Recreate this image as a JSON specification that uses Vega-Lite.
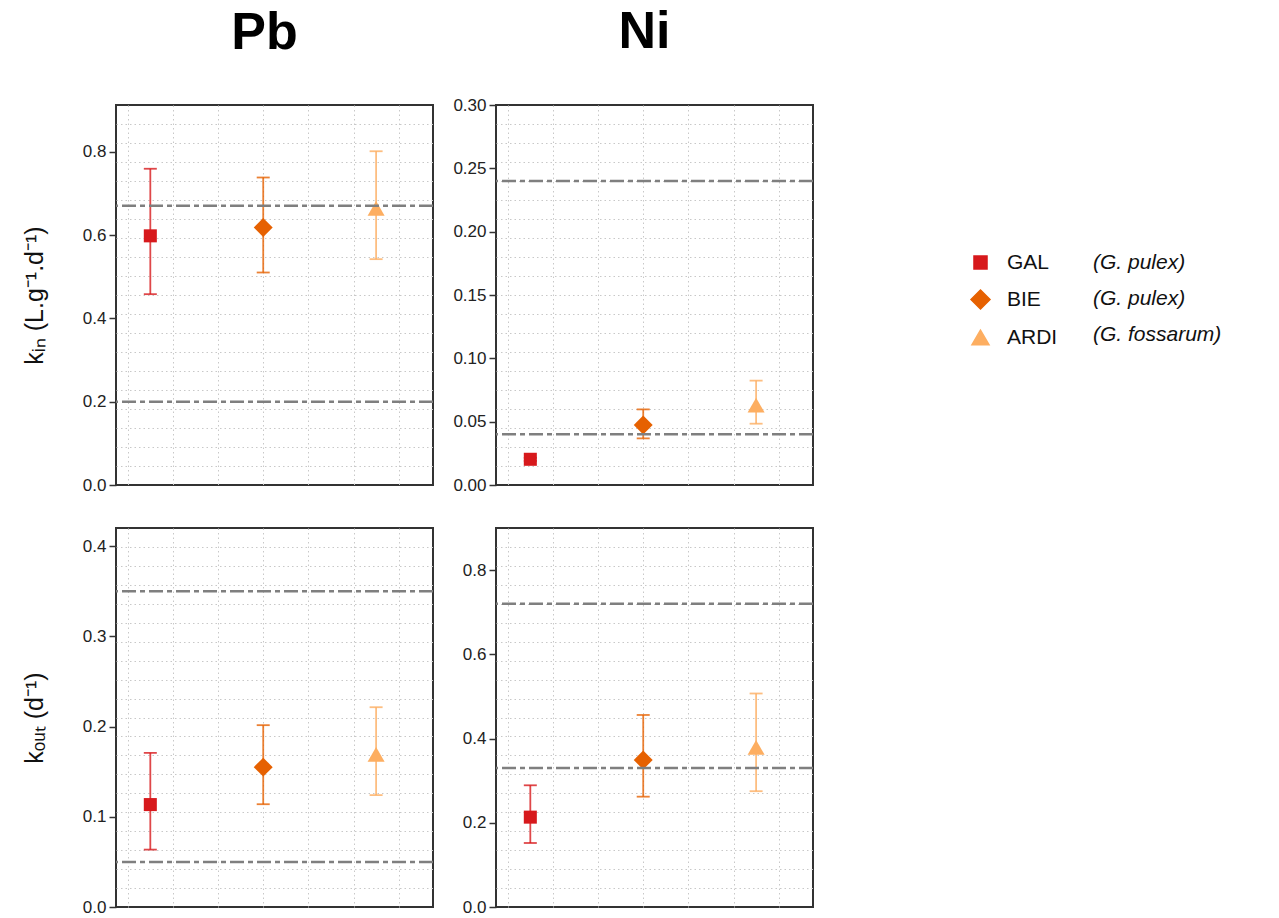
{
"$schema": "https://vega.github.io/schema/vega-lite/v6.json",
"background": "white",
"padding": {"left": 21, "top": 5, "right": 5, "bottom": 5},
"datasets": {
 "pbkin": [
  {"site": "GAL", "sp": "GAL (G. pulex)", "pos": 1, "v": 0.598, "lo": 0.458, "hi": 0.759},
  {"site": "BIE", "sp": "BIE (G. pulex)", "pos": 2, "v": 0.618, "lo": 0.510, "hi": 0.738},
  {"site": "ARDI", "sp": "ARDI (G. fossarum)", "pos": 3, "v": 0.664, "lo": 0.542, "hi": 0.801}
 ],
 "pbkin_ref": [{"v": 0.67}, {"v": 0.2}],
 "nikin": [
  {"site": "GAL", "sp": "GAL (G. pulex)", "pos": 1, "v": 0.0203, "lo": 0.019, "hi": 0.0215},
  {"site": "BIE", "sp": "BIE (G. pulex)", "pos": 2, "v": 0.0474, "lo": 0.0368, "hi": 0.0597},
  {"site": "ARDI", "sp": "ARDI (G. fossarum)", "pos": 3, "v": 0.063, "lo": 0.0484, "hi": 0.0824}
 ],
 "nikin_ref": [{"v": 0.24}, {"v": 0.04}],
 "pbkout": [
  {"site": "GAL", "sp": "GAL (G. pulex)", "pos": 1, "v": 0.1135, "lo": 0.0636, "hi": 0.1708},
  {"site": "BIE", "sp": "BIE (G. pulex)", "pos": 2, "v": 0.155, "lo": 0.1139, "hi": 0.2015},
  {"site": "ARDI", "sp": "ARDI (G. fossarum)", "pos": 3, "v": 0.169, "lo": 0.124, "hi": 0.2214}
 ],
 "pbkout_ref": [{"v": 0.35}, {"v": 0.05}],
 "nikout": [
  {"site": "GAL", "sp": "GAL (G. pulex)", "pos": 1, "v": 0.2134, "lo": 0.152, "hi": 0.289},
  {"site": "BIE", "sp": "BIE (G. pulex)", "pos": 2, "v": 0.349, "lo": 0.262, "hi": 0.456},
  {"site": "ARDI", "sp": "ARDI (G. fossarum)", "pos": 3, "v": 0.379, "lo": 0.275, "hi": 0.507}
 ],
 "nikout_ref": [{"v": 0.72}, {"v": 0.33}]
},
"columns": 2,
"spacing": {"row": 43, "column": 63},
"bounds": "flush",
"concat": [
 {
  "width": 317, "height": 380,
  "title": {"text": "Pb", "offset": 45, "dx": -10},
  "layer": [
   {"data": {"name": "pbkin"}, "mark": {"type": "rule", "strokeWidth": 1.8, "opacity": 0.8},
    "encoding": {
     "x": {"field": "pos", "type": "quantitative", "scale": {"domain": [0.696, 3.504], "nice": false, "zero": false}, "axis": {"values": [0.8, 1.2, 1.6, 2, 2.4, 2.8, 3.2], "labels": false, "ticks": false, "domain": false, "title": null, "grid": true}},
     "y": {"field": "lo", "type": "quantitative", "scale": {"domain": [0, 0.912], "nice": false, "zero": false}, "axis": {"values": [0,0.0456,0.0912,0.1368,0.1824,0.2,0.228,0.2736,0.3192,0.3648,0.4,0.4104,0.456,0.5016,0.5472,0.5928,0.6,0.6384,0.684,0.7296,0.7752,0.8,0.8208,0.8664], "labelExpr": "abs(datum.value*5-round(datum.value*5))<1e-6 ? format(datum.value,'.1f') : ''", "labelOverlap": false, "tickOpacity": {"condition": {"test": "abs(datum.value*5-round(datum.value*5))<1e-6", "value": 1}, "value": 0}, "gridOpacity": {"condition": {"test": "datum.value>0.001 && abs(datum.value/0.0456-round(datum.value/0.0456))<1e-6", "value": 1}, "value": 0}, "title": "kᵢₙ (L.g⁻¹.d⁻¹)"}},
     "y2": {"field": "hi"},
     "color": {"field": "site", "type": "nominal", "scale": {"domain": ["GAL", "BIE", "ARDI"], "range": ["#d7191c", "#e66101", "#fdae61"]}, "legend": {"title": null, "orient": "right", "offset": 7, "padding": 147, "labelFontSize": 21, "labelFont": "Liberation Sans", "labelColor": "#111111", "rowPadding": 14, "labelOffset": 16, "labelLimit": 300, "symbolOpacity": 1}}
    }},
   {"data": {"name": "pbkin"}, "mark": {"type": "tick", "orient": "horizontal", "size": 13, "thickness": 1.8, "opacity": 0.8},
    "encoding": {
     "x": {"field": "pos", "type": "quantitative", "scale": {"domain": [0.696, 3.504], "nice": false, "zero": false}, "axis": {"values": [0.8, 1.2, 1.6, 2, 2.4, 2.8, 3.2], "labels": false, "ticks": false, "domain": false, "title": null, "grid": true}},
     "y": {"field": "lo", "type": "quantitative", "scale": {"domain": [0, 0.912], "nice": false, "zero": false}, "axis": {"values": [0,0.0456,0.0912,0.1368,0.1824,0.2,0.228,0.2736,0.3192,0.3648,0.4,0.4104,0.456,0.5016,0.5472,0.5928,0.6,0.6384,0.684,0.7296,0.7752,0.8,0.8208,0.8664], "labelExpr": "abs(datum.value*5-round(datum.value*5))<1e-6 ? format(datum.value,'.1f') : ''", "labelOverlap": false, "tickOpacity": {"condition": {"test": "abs(datum.value*5-round(datum.value*5))<1e-6", "value": 1}, "value": 0}, "gridOpacity": {"condition": {"test": "datum.value>0.001 && abs(datum.value/0.0456-round(datum.value/0.0456))<1e-6", "value": 1}, "value": 0}, "title": "kᵢₙ (L.g⁻¹.d⁻¹)"}},
     "color": {"field": "site", "type": "nominal", "scale": {"domain": ["GAL", "BIE", "ARDI"], "range": ["#d7191c", "#e66101", "#fdae61"]}, "legend": {"title": null, "orient": "right", "offset": 7, "padding": 147, "labelFontSize": 21, "labelFont": "Liberation Sans", "labelColor": "#111111", "rowPadding": 14, "labelOffset": 16, "labelLimit": 300, "symbolOpacity": 1}}
    }},
   {"data": {"name": "pbkin"}, "mark": {"type": "tick", "orient": "horizontal", "size": 13, "thickness": 1.8, "opacity": 0.8},
    "encoding": {
     "x": {"field": "pos", "type": "quantitative", "scale": {"domain": [0.696, 3.504], "nice": false, "zero": false}, "axis": {"values": [0.8, 1.2, 1.6, 2, 2.4, 2.8, 3.2], "labels": false, "ticks": false, "domain": false, "title": null, "grid": true}},
     "y": {"field": "hi", "type": "quantitative", "scale": {"domain": [0, 0.912], "nice": false, "zero": false}, "axis": {"values": [0,0.0456,0.0912,0.1368,0.1824,0.2,0.228,0.2736,0.3192,0.3648,0.4,0.4104,0.456,0.5016,0.5472,0.5928,0.6,0.6384,0.684,0.7296,0.7752,0.8,0.8208,0.8664], "labelExpr": "abs(datum.value*5-round(datum.value*5))<1e-6 ? format(datum.value,'.1f') : ''", "labelOverlap": false, "tickOpacity": {"condition": {"test": "abs(datum.value*5-round(datum.value*5))<1e-6", "value": 1}, "value": 0}, "gridOpacity": {"condition": {"test": "datum.value>0.001 && abs(datum.value/0.0456-round(datum.value/0.0456))<1e-6", "value": 1}, "value": 0}, "title": "kᵢₙ (L.g⁻¹.d⁻¹)"}},
     "color": {"field": "site", "type": "nominal", "scale": {"domain": ["GAL", "BIE", "ARDI"], "range": ["#d7191c", "#e66101", "#fdae61"]}, "legend": {"title": null, "orient": "right", "offset": 7, "padding": 147, "labelFontSize": 21, "labelFont": "Liberation Sans", "labelColor": "#111111", "rowPadding": 14, "labelOffset": 16, "labelLimit": 300, "symbolOpacity": 1}}
    }},
   {"data": {"name": "pbkin"}, "mark": {"type": "point", "filled": true, "strokeWidth": 0},
    "encoding": {
     "x": {"field": "pos", "type": "quantitative", "scale": {"domain": [0.696, 3.504], "nice": false, "zero": false}, "axis": {"values": [0.8, 1.2, 1.6, 2, 2.4, 2.8, 3.2], "labels": false, "ticks": false, "domain": false, "title": null, "grid": true}},
     "y": {"field": "v", "type": "quantitative", "scale": {"domain": [0, 0.912], "nice": false, "zero": false}, "axis": {"values": [0,0.0456,0.0912,0.1368,0.1824,0.2,0.228,0.2736,0.3192,0.3648,0.4,0.4104,0.456,0.5016,0.5472,0.5928,0.6,0.6384,0.684,0.7296,0.7752,0.8,0.8208,0.8664], "labelExpr": "abs(datum.value*5-round(datum.value*5))<1e-6 ? format(datum.value,'.1f') : ''", "labelOverlap": false, "tickOpacity": {"condition": {"test": "abs(datum.value*5-round(datum.value*5))<1e-6", "value": 1}, "value": 0}, "gridOpacity": {"condition": {"test": "datum.value>0.001 && abs(datum.value/0.0456-round(datum.value/0.0456))<1e-6", "value": 1}, "value": 0}, "title": "kᵢₙ (L.g⁻¹.d⁻¹)"}},
     "color": {"field": "site", "type": "nominal", "scale": {"domain": ["GAL", "BIE", "ARDI"], "range": ["#d7191c", "#e66101", "#fdae61"]}, "legend": {"title": null, "orient": "right", "offset": 7, "padding": 147, "labelFontSize": 21, "labelFont": "Liberation Sans", "labelColor": "#111111", "rowPadding": 14, "labelOffset": 16, "labelLimit": 300, "symbolOpacity": 1}},
     "shape": {"field": "site", "type": "nominal", "scale": {"domain": ["GAL", "BIE", "ARDI"], "range": ["square", "diamond", "triangle-up"]}, "legend": {"title": null, "orient": "right", "offset": 7, "padding": 147, "labelFontSize": 21, "labelFont": "Liberation Sans", "labelColor": "#111111", "rowPadding": 14, "labelOffset": 16, "labelLimit": 300, "symbolOpacity": 1}},
     "size": {"field": "site", "type": "nominal", "scale": {"type": "ordinal", "domain": ["GAL", "BIE", "ARDI"], "range": [170, 360, 290]}, "legend": {"title": null, "orient": "right", "offset": 7, "padding": 147, "labelFontSize": 21, "labelFont": "Liberation Sans", "labelColor": "#111111", "rowPadding": 14, "labelOffset": 16, "labelLimit": 300, "symbolOpacity": 1}},
     "opacity": {"field": "sp", "type": "nominal", "scale": {"type": "ordinal", "domain": ["GAL (G. pulex)", "BIE (G. pulex)", "ARDI (G. fossarum)"], "range": [1, 1, 1]}, "legend": {"title": null, "orient": "none", "legendX": 956, "legendY": 147, "labelFontSize": 21, "labelFont": "Liberation Sans", "labelFontStyle": "italic", "labelColor": "#111111", "rowPadding": 14, "symbolSize": 0, "symbolStrokeWidth": 0, "labelOffset": 0, "labelLimit": 300, "labelExpr": "substring(datum.label, indexof(datum.label, '('))"}}
    }},
   {"data": {"name": "pbkin_ref"}, "mark": {"type": "rule", "stroke": "#7f7f7f", "strokeWidth": 2.5, "strokeDash": [14, 4, 5, 4]},
    "encoding": {
     "y": {"field": "v", "type": "quantitative", "scale": {"domain": [0, 0.912], "nice": false, "zero": false}, "axis": {"values": [0,0.0456,0.0912,0.1368,0.1824,0.2,0.228,0.2736,0.3192,0.3648,0.4,0.4104,0.456,0.5016,0.5472,0.5928,0.6,0.6384,0.684,0.7296,0.7752,0.8,0.8208,0.8664], "labelExpr": "abs(datum.value*5-round(datum.value*5))<1e-6 ? format(datum.value,'.1f') : ''", "labelOverlap": false, "tickOpacity": {"condition": {"test": "abs(datum.value*5-round(datum.value*5))<1e-6", "value": 1}, "value": 0}, "gridOpacity": {"condition": {"test": "datum.value>0.001 && abs(datum.value/0.0456-round(datum.value/0.0456))<1e-6", "value": 1}, "value": 0}, "title": "kᵢₙ (L.g⁻¹.d⁻¹)"}}
    }}
  ]
 },
 {
  "width": 317, "height": 380,
  "title": {"text": "Ni", "offset": 37, "dx": -10},
  "layer": [
   {"data": {"name": "nikin"}, "mark": {"type": "rule", "strokeWidth": 1.8, "opacity": 0.8},
    "encoding": {
     "x": {"field": "pos", "type": "quantitative", "scale": {"domain": [0.696, 3.504], "nice": false, "zero": false}, "axis": {"values": [0.8, 1.2, 1.6, 2, 2.4, 2.8, 3.2], "labels": false, "ticks": false, "domain": false, "title": null, "grid": true}},
     "y": {"field": "lo", "type": "quantitative", "scale": {"domain": [0, 0.3], "nice": false, "zero": false}, "axis": {"values": [0,0.015,0.03,0.045,0.05,0.06,0.075,0.09,0.1,0.105,0.12,0.135,0.15,0.165,0.18,0.195,0.2,0.21,0.225,0.24,0.25,0.255,0.27,0.285,0.3], "labelExpr": "abs(datum.value*20-round(datum.value*20))<1e-6 ? format(datum.value,'.2f') : ''", "labelOverlap": false, "tickOpacity": {"condition": {"test": "abs(datum.value*20-round(datum.value*20))<1e-6", "value": 1}, "value": 0}, "gridOpacity": {"condition": {"test": "datum.value>0.001 && datum.value<0.299 && abs(datum.value/0.015-round(datum.value/0.015))<1e-6", "value": 1}, "value": 0}, "title": null}},
     "y2": {"field": "hi"},
     "color": {"field": "site", "type": "nominal", "scale": {"domain": ["GAL", "BIE", "ARDI"], "range": ["#d7191c", "#e66101", "#fdae61"]}, "legend": {"title": null, "orient": "right", "offset": 7, "padding": 147, "labelFontSize": 21, "labelFont": "Liberation Sans", "labelColor": "#111111", "rowPadding": 14, "labelOffset": 16, "labelLimit": 300, "symbolOpacity": 1}}
    }},
   {"data": {"name": "nikin"}, "mark": {"type": "tick", "orient": "horizontal", "size": 13, "thickness": 1.8, "opacity": 0.8},
    "encoding": {
     "x": {"field": "pos", "type": "quantitative", "scale": {"domain": [0.696, 3.504], "nice": false, "zero": false}, "axis": {"values": [0.8, 1.2, 1.6, 2, 2.4, 2.8, 3.2], "labels": false, "ticks": false, "domain": false, "title": null, "grid": true}},
     "y": {"field": "lo", "type": "quantitative", "scale": {"domain": [0, 0.3], "nice": false, "zero": false}, "axis": {"values": [0,0.015,0.03,0.045,0.05,0.06,0.075,0.09,0.1,0.105,0.12,0.135,0.15,0.165,0.18,0.195,0.2,0.21,0.225,0.24,0.25,0.255,0.27,0.285,0.3], "labelExpr": "abs(datum.value*20-round(datum.value*20))<1e-6 ? format(datum.value,'.2f') : ''", "labelOverlap": false, "tickOpacity": {"condition": {"test": "abs(datum.value*20-round(datum.value*20))<1e-6", "value": 1}, "value": 0}, "gridOpacity": {"condition": {"test": "datum.value>0.001 && datum.value<0.299 && abs(datum.value/0.015-round(datum.value/0.015))<1e-6", "value": 1}, "value": 0}, "title": null}},
     "color": {"field": "site", "type": "nominal", "scale": {"domain": ["GAL", "BIE", "ARDI"], "range": ["#d7191c", "#e66101", "#fdae61"]}, "legend": {"title": null, "orient": "right", "offset": 7, "padding": 147, "labelFontSize": 21, "labelFont": "Liberation Sans", "labelColor": "#111111", "rowPadding": 14, "labelOffset": 16, "labelLimit": 300, "symbolOpacity": 1}}
    }},
   {"data": {"name": "nikin"}, "mark": {"type": "tick", "orient": "horizontal", "size": 13, "thickness": 1.8, "opacity": 0.8},
    "encoding": {
     "x": {"field": "pos", "type": "quantitative", "scale": {"domain": [0.696, 3.504], "nice": false, "zero": false}, "axis": {"values": [0.8, 1.2, 1.6, 2, 2.4, 2.8, 3.2], "labels": false, "ticks": false, "domain": false, "title": null, "grid": true}},
     "y": {"field": "hi", "type": "quantitative", "scale": {"domain": [0, 0.3], "nice": false, "zero": false}, "axis": {"values": [0,0.015,0.03,0.045,0.05,0.06,0.075,0.09,0.1,0.105,0.12,0.135,0.15,0.165,0.18,0.195,0.2,0.21,0.225,0.24,0.25,0.255,0.27,0.285,0.3], "labelExpr": "abs(datum.value*20-round(datum.value*20))<1e-6 ? format(datum.value,'.2f') : ''", "labelOverlap": false, "tickOpacity": {"condition": {"test": "abs(datum.value*20-round(datum.value*20))<1e-6", "value": 1}, "value": 0}, "gridOpacity": {"condition": {"test": "datum.value>0.001 && datum.value<0.299 && abs(datum.value/0.015-round(datum.value/0.015))<1e-6", "value": 1}, "value": 0}, "title": null}},
     "color": {"field": "site", "type": "nominal", "scale": {"domain": ["GAL", "BIE", "ARDI"], "range": ["#d7191c", "#e66101", "#fdae61"]}, "legend": {"title": null, "orient": "right", "offset": 7, "padding": 147, "labelFontSize": 21, "labelFont": "Liberation Sans", "labelColor": "#111111", "rowPadding": 14, "labelOffset": 16, "labelLimit": 300, "symbolOpacity": 1}}
    }},
   {"data": {"name": "nikin"}, "mark": {"type": "point", "filled": true, "strokeWidth": 0},
    "encoding": {
     "x": {"field": "pos", "type": "quantitative", "scale": {"domain": [0.696, 3.504], "nice": false, "zero": false}, "axis": {"values": [0.8, 1.2, 1.6, 2, 2.4, 2.8, 3.2], "labels": false, "ticks": false, "domain": false, "title": null, "grid": true}},
     "y": {"field": "v", "type": "quantitative", "scale": {"domain": [0, 0.3], "nice": false, "zero": false}, "axis": {"values": [0,0.015,0.03,0.045,0.05,0.06,0.075,0.09,0.1,0.105,0.12,0.135,0.15,0.165,0.18,0.195,0.2,0.21,0.225,0.24,0.25,0.255,0.27,0.285,0.3], "labelExpr": "abs(datum.value*20-round(datum.value*20))<1e-6 ? format(datum.value,'.2f') : ''", "labelOverlap": false, "tickOpacity": {"condition": {"test": "abs(datum.value*20-round(datum.value*20))<1e-6", "value": 1}, "value": 0}, "gridOpacity": {"condition": {"test": "datum.value>0.001 && datum.value<0.299 && abs(datum.value/0.015-round(datum.value/0.015))<1e-6", "value": 1}, "value": 0}, "title": null}},
     "color": {"field": "site", "type": "nominal", "scale": {"domain": ["GAL", "BIE", "ARDI"], "range": ["#d7191c", "#e66101", "#fdae61"]}, "legend": {"title": null, "orient": "right", "offset": 7, "padding": 147, "labelFontSize": 21, "labelFont": "Liberation Sans", "labelColor": "#111111", "rowPadding": 14, "labelOffset": 16, "labelLimit": 300, "symbolOpacity": 1}},
     "shape": {"field": "site", "type": "nominal", "scale": {"domain": ["GAL", "BIE", "ARDI"], "range": ["square", "diamond", "triangle-up"]}, "legend": {"title": null, "orient": "right", "offset": 7, "padding": 147, "labelFontSize": 21, "labelFont": "Liberation Sans", "labelColor": "#111111", "rowPadding": 14, "labelOffset": 16, "labelLimit": 300, "symbolOpacity": 1}},
     "size": {"field": "site", "type": "nominal", "scale": {"type": "ordinal", "domain": ["GAL", "BIE", "ARDI"], "range": [170, 360, 290]}, "legend": {"title": null, "orient": "right", "offset": 7, "padding": 147, "labelFontSize": 21, "labelFont": "Liberation Sans", "labelColor": "#111111", "rowPadding": 14, "labelOffset": 16, "labelLimit": 300, "symbolOpacity": 1}},
     "opacity": {"field": "sp", "type": "nominal", "scale": {"type": "ordinal", "domain": ["GAL (G. pulex)", "BIE (G. pulex)", "ARDI (G. fossarum)"], "range": [1, 1, 1]}, "legend": {"title": null, "orient": "none", "legendX": 956, "legendY": 147, "labelFontSize": 21, "labelFont": "Liberation Sans", "labelFontStyle": "italic", "labelColor": "#111111", "rowPadding": 14, "symbolSize": 0, "symbolStrokeWidth": 0, "labelOffset": 0, "labelLimit": 300, "labelExpr": "substring(datum.label, indexof(datum.label, '('))"}}
    }},
   {"data": {"name": "nikin_ref"}, "mark": {"type": "rule", "stroke": "#7f7f7f", "strokeWidth": 2.5, "strokeDash": [14, 4, 5, 4]},
    "encoding": {
     "y": {"field": "v", "type": "quantitative", "scale": {"domain": [0, 0.3], "nice": false, "zero": false}, "axis": {"values": [0,0.015,0.03,0.045,0.05,0.06,0.075,0.09,0.1,0.105,0.12,0.135,0.15,0.165,0.18,0.195,0.2,0.21,0.225,0.24,0.25,0.255,0.27,0.285,0.3], "labelExpr": "abs(datum.value*20-round(datum.value*20))<1e-6 ? format(datum.value,'.2f') : ''", "labelOverlap": false, "tickOpacity": {"condition": {"test": "abs(datum.value*20-round(datum.value*20))<1e-6", "value": 1}, "value": 0}, "gridOpacity": {"condition": {"test": "datum.value>0.001 && datum.value<0.299 && abs(datum.value/0.015-round(datum.value/0.015))<1e-6", "value": 1}, "value": 0}, "title": null}}
    }}
  ]
 },
 {
  "width": 317, "height": 379,
  "layer": [
   {"data": {"name": "pbkout"}, "mark": {"type": "rule", "strokeWidth": 1.8, "opacity": 0.8},
    "encoding": {
     "x": {"field": "pos", "type": "quantitative", "scale": {"domain": [0.696, 3.504], "nice": false, "zero": false}, "axis": {"values": [0.8, 1.2, 1.6, 2, 2.4, 2.8, 3.2], "labels": false, "ticks": false, "domain": false, "title": null, "grid": true}},
     "y": {"field": "lo", "type": "quantitative", "scale": {"domain": [0, 0.42], "nice": false, "zero": false}, "axis": {"values": [0,0.021,0.042,0.063,0.084,0.1,0.105,0.126,0.147,0.168,0.189,0.2,0.21,0.231,0.252,0.273,0.294,0.3,0.315,0.336,0.357,0.378,0.399,0.4], "labelExpr": "abs(datum.value*10-round(datum.value*10))<1e-6 ? format(datum.value,'.1f') : ''", "labelOverlap": false, "tickOpacity": {"condition": {"test": "abs(datum.value*10-round(datum.value*10))<1e-6", "value": 1}, "value": 0}, "gridOpacity": {"condition": {"test": "datum.value>0.001 && abs(datum.value/0.021-round(datum.value/0.021))<1e-6", "value": 1}, "value": 0}, "title": "kₒᵤₜ (d⁻¹)"}},
     "y2": {"field": "hi"},
     "color": {"field": "site", "type": "nominal", "scale": {"domain": ["GAL", "BIE", "ARDI"], "range": ["#d7191c", "#e66101", "#fdae61"]}, "legend": {"title": null, "orient": "right", "offset": 7, "padding": 147, "labelFontSize": 21, "labelFont": "Liberation Sans", "labelColor": "#111111", "rowPadding": 14, "labelOffset": 16, "labelLimit": 300, "symbolOpacity": 1}}
    }},
   {"data": {"name": "pbkout"}, "mark": {"type": "tick", "orient": "horizontal", "size": 13, "thickness": 1.8, "opacity": 0.8},
    "encoding": {
     "x": {"field": "pos", "type": "quantitative", "scale": {"domain": [0.696, 3.504], "nice": false, "zero": false}, "axis": {"values": [0.8, 1.2, 1.6, 2, 2.4, 2.8, 3.2], "labels": false, "ticks": false, "domain": false, "title": null, "grid": true}},
     "y": {"field": "lo", "type": "quantitative", "scale": {"domain": [0, 0.42], "nice": false, "zero": false}, "axis": {"values": [0,0.021,0.042,0.063,0.084,0.1,0.105,0.126,0.147,0.168,0.189,0.2,0.21,0.231,0.252,0.273,0.294,0.3,0.315,0.336,0.357,0.378,0.399,0.4], "labelExpr": "abs(datum.value*10-round(datum.value*10))<1e-6 ? format(datum.value,'.1f') : ''", "labelOverlap": false, "tickOpacity": {"condition": {"test": "abs(datum.value*10-round(datum.value*10))<1e-6", "value": 1}, "value": 0}, "gridOpacity": {"condition": {"test": "datum.value>0.001 && abs(datum.value/0.021-round(datum.value/0.021))<1e-6", "value": 1}, "value": 0}, "title": "kₒᵤₜ (d⁻¹)"}},
     "color": {"field": "site", "type": "nominal", "scale": {"domain": ["GAL", "BIE", "ARDI"], "range": ["#d7191c", "#e66101", "#fdae61"]}, "legend": {"title": null, "orient": "right", "offset": 7, "padding": 147, "labelFontSize": 21, "labelFont": "Liberation Sans", "labelColor": "#111111", "rowPadding": 14, "labelOffset": 16, "labelLimit": 300, "symbolOpacity": 1}}
    }},
   {"data": {"name": "pbkout"}, "mark": {"type": "tick", "orient": "horizontal", "size": 13, "thickness": 1.8, "opacity": 0.8},
    "encoding": {
     "x": {"field": "pos", "type": "quantitative", "scale": {"domain": [0.696, 3.504], "nice": false, "zero": false}, "axis": {"values": [0.8, 1.2, 1.6, 2, 2.4, 2.8, 3.2], "labels": false, "ticks": false, "domain": false, "title": null, "grid": true}},
     "y": {"field": "hi", "type": "quantitative", "scale": {"domain": [0, 0.42], "nice": false, "zero": false}, "axis": {"values": [0,0.021,0.042,0.063,0.084,0.1,0.105,0.126,0.147,0.168,0.189,0.2,0.21,0.231,0.252,0.273,0.294,0.3,0.315,0.336,0.357,0.378,0.399,0.4], "labelExpr": "abs(datum.value*10-round(datum.value*10))<1e-6 ? format(datum.value,'.1f') : ''", "labelOverlap": false, "tickOpacity": {"condition": {"test": "abs(datum.value*10-round(datum.value*10))<1e-6", "value": 1}, "value": 0}, "gridOpacity": {"condition": {"test": "datum.value>0.001 && abs(datum.value/0.021-round(datum.value/0.021))<1e-6", "value": 1}, "value": 0}, "title": "kₒᵤₜ (d⁻¹)"}},
     "color": {"field": "site", "type": "nominal", "scale": {"domain": ["GAL", "BIE", "ARDI"], "range": ["#d7191c", "#e66101", "#fdae61"]}, "legend": {"title": null, "orient": "right", "offset": 7, "padding": 147, "labelFontSize": 21, "labelFont": "Liberation Sans", "labelColor": "#111111", "rowPadding": 14, "labelOffset": 16, "labelLimit": 300, "symbolOpacity": 1}}
    }},
   {"data": {"name": "pbkout"}, "mark": {"type": "point", "filled": true, "strokeWidth": 0},
    "encoding": {
     "x": {"field": "pos", "type": "quantitative", "scale": {"domain": [0.696, 3.504], "nice": false, "zero": false}, "axis": {"values": [0.8, 1.2, 1.6, 2, 2.4, 2.8, 3.2], "labels": false, "ticks": false, "domain": false, "title": null, "grid": true}},
     "y": {"field": "v", "type": "quantitative", "scale": {"domain": [0, 0.42], "nice": false, "zero": false}, "axis": {"values": [0,0.021,0.042,0.063,0.084,0.1,0.105,0.126,0.147,0.168,0.189,0.2,0.21,0.231,0.252,0.273,0.294,0.3,0.315,0.336,0.357,0.378,0.399,0.4], "labelExpr": "abs(datum.value*10-round(datum.value*10))<1e-6 ? format(datum.value,'.1f') : ''", "labelOverlap": false, "tickOpacity": {"condition": {"test": "abs(datum.value*10-round(datum.value*10))<1e-6", "value": 1}, "value": 0}, "gridOpacity": {"condition": {"test": "datum.value>0.001 && abs(datum.value/0.021-round(datum.value/0.021))<1e-6", "value": 1}, "value": 0}, "title": "kₒᵤₜ (d⁻¹)"}},
     "color": {"field": "site", "type": "nominal", "scale": {"domain": ["GAL", "BIE", "ARDI"], "range": ["#d7191c", "#e66101", "#fdae61"]}, "legend": {"title": null, "orient": "right", "offset": 7, "padding": 147, "labelFontSize": 21, "labelFont": "Liberation Sans", "labelColor": "#111111", "rowPadding": 14, "labelOffset": 16, "labelLimit": 300, "symbolOpacity": 1}},
     "shape": {"field": "site", "type": "nominal", "scale": {"domain": ["GAL", "BIE", "ARDI"], "range": ["square", "diamond", "triangle-up"]}, "legend": {"title": null, "orient": "right", "offset": 7, "padding": 147, "labelFontSize": 21, "labelFont": "Liberation Sans", "labelColor": "#111111", "rowPadding": 14, "labelOffset": 16, "labelLimit": 300, "symbolOpacity": 1}},
     "size": {"field": "site", "type": "nominal", "scale": {"type": "ordinal", "domain": ["GAL", "BIE", "ARDI"], "range": [170, 360, 290]}, "legend": {"title": null, "orient": "right", "offset": 7, "padding": 147, "labelFontSize": 21, "labelFont": "Liberation Sans", "labelColor": "#111111", "rowPadding": 14, "labelOffset": 16, "labelLimit": 300, "symbolOpacity": 1}},
     "opacity": {"field": "sp", "type": "nominal", "scale": {"type": "ordinal", "domain": ["GAL (G. pulex)", "BIE (G. pulex)", "ARDI (G. fossarum)"], "range": [1, 1, 1]}, "legend": {"title": null, "orient": "none", "legendX": 956, "legendY": 147, "labelFontSize": 21, "labelFont": "Liberation Sans", "labelFontStyle": "italic", "labelColor": "#111111", "rowPadding": 14, "symbolSize": 0, "symbolStrokeWidth": 0, "labelOffset": 0, "labelLimit": 300, "labelExpr": "substring(datum.label, indexof(datum.label, '('))"}}
    }},
   {"data": {"name": "pbkout_ref"}, "mark": {"type": "rule", "stroke": "#7f7f7f", "strokeWidth": 2.5, "strokeDash": [14, 4, 5, 4]},
    "encoding": {
     "y": {"field": "v", "type": "quantitative", "scale": {"domain": [0, 0.42], "nice": false, "zero": false}, "axis": {"values": [0,0.021,0.042,0.063,0.084,0.1,0.105,0.126,0.147,0.168,0.189,0.2,0.21,0.231,0.252,0.273,0.294,0.3,0.315,0.336,0.357,0.378,0.399,0.4], "labelExpr": "abs(datum.value*10-round(datum.value*10))<1e-6 ? format(datum.value,'.1f') : ''", "labelOverlap": false, "tickOpacity": {"condition": {"test": "abs(datum.value*10-round(datum.value*10))<1e-6", "value": 1}, "value": 0}, "gridOpacity": {"condition": {"test": "datum.value>0.001 && abs(datum.value/0.021-round(datum.value/0.021))<1e-6", "value": 1}, "value": 0}, "title": "kₒᵤₜ (d⁻¹)"}}
    }}
  ]
 },
 {
  "width": 317, "height": 379,
  "layer": [
   {"data": {"name": "nikout"}, "mark": {"type": "rule", "strokeWidth": 1.8, "opacity": 0.8},
    "encoding": {
     "x": {"field": "pos", "type": "quantitative", "scale": {"domain": [0.696, 3.504], "nice": false, "zero": false}, "axis": {"values": [0.8, 1.2, 1.6, 2, 2.4, 2.8, 3.2], "labels": false, "ticks": false, "domain": false, "title": null, "grid": true}},
     "y": {"field": "lo", "type": "quantitative", "scale": {"domain": [0, 0.9], "nice": false, "zero": false}, "axis": {"values": [0,0.045,0.09,0.135,0.18,0.2,0.225,0.27,0.315,0.36,0.4,0.405,0.45,0.495,0.54,0.585,0.6,0.63,0.675,0.72,0.765,0.8,0.81,0.855], "labelExpr": "abs(datum.value*5-round(datum.value*5))<1e-6 ? format(datum.value,'.1f') : ''", "labelOverlap": false, "tickOpacity": {"condition": {"test": "abs(datum.value*5-round(datum.value*5))<1e-6", "value": 1}, "value": 0}, "gridOpacity": {"condition": {"test": "datum.value>0.001 && abs(datum.value/0.045-round(datum.value/0.045))<1e-6", "value": 1}, "value": 0}, "title": null}},
     "y2": {"field": "hi"},
     "color": {"field": "site", "type": "nominal", "scale": {"domain": ["GAL", "BIE", "ARDI"], "range": ["#d7191c", "#e66101", "#fdae61"]}, "legend": {"title": null, "orient": "right", "offset": 7, "padding": 147, "labelFontSize": 21, "labelFont": "Liberation Sans", "labelColor": "#111111", "rowPadding": 14, "labelOffset": 16, "labelLimit": 300, "symbolOpacity": 1}}
    }},
   {"data": {"name": "nikout"}, "mark": {"type": "tick", "orient": "horizontal", "size": 13, "thickness": 1.8, "opacity": 0.8},
    "encoding": {
     "x": {"field": "pos", "type": "quantitative", "scale": {"domain": [0.696, 3.504], "nice": false, "zero": false}, "axis": {"values": [0.8, 1.2, 1.6, 2, 2.4, 2.8, 3.2], "labels": false, "ticks": false, "domain": false, "title": null, "grid": true}},
     "y": {"field": "lo", "type": "quantitative", "scale": {"domain": [0, 0.9], "nice": false, "zero": false}, "axis": {"values": [0,0.045,0.09,0.135,0.18,0.2,0.225,0.27,0.315,0.36,0.4,0.405,0.45,0.495,0.54,0.585,0.6,0.63,0.675,0.72,0.765,0.8,0.81,0.855], "labelExpr": "abs(datum.value*5-round(datum.value*5))<1e-6 ? format(datum.value,'.1f') : ''", "labelOverlap": false, "tickOpacity": {"condition": {"test": "abs(datum.value*5-round(datum.value*5))<1e-6", "value": 1}, "value": 0}, "gridOpacity": {"condition": {"test": "datum.value>0.001 && abs(datum.value/0.045-round(datum.value/0.045))<1e-6", "value": 1}, "value": 0}, "title": null}},
     "color": {"field": "site", "type": "nominal", "scale": {"domain": ["GAL", "BIE", "ARDI"], "range": ["#d7191c", "#e66101", "#fdae61"]}, "legend": {"title": null, "orient": "right", "offset": 7, "padding": 147, "labelFontSize": 21, "labelFont": "Liberation Sans", "labelColor": "#111111", "rowPadding": 14, "labelOffset": 16, "labelLimit": 300, "symbolOpacity": 1}}
    }},
   {"data": {"name": "nikout"}, "mark": {"type": "tick", "orient": "horizontal", "size": 13, "thickness": 1.8, "opacity": 0.8},
    "encoding": {
     "x": {"field": "pos", "type": "quantitative", "scale": {"domain": [0.696, 3.504], "nice": false, "zero": false}, "axis": {"values": [0.8, 1.2, 1.6, 2, 2.4, 2.8, 3.2], "labels": false, "ticks": false, "domain": false, "title": null, "grid": true}},
     "y": {"field": "hi", "type": "quantitative", "scale": {"domain": [0, 0.9], "nice": false, "zero": false}, "axis": {"values": [0,0.045,0.09,0.135,0.18,0.2,0.225,0.27,0.315,0.36,0.4,0.405,0.45,0.495,0.54,0.585,0.6,0.63,0.675,0.72,0.765,0.8,0.81,0.855], "labelExpr": "abs(datum.value*5-round(datum.value*5))<1e-6 ? format(datum.value,'.1f') : ''", "labelOverlap": false, "tickOpacity": {"condition": {"test": "abs(datum.value*5-round(datum.value*5))<1e-6", "value": 1}, "value": 0}, "gridOpacity": {"condition": {"test": "datum.value>0.001 && abs(datum.value/0.045-round(datum.value/0.045))<1e-6", "value": 1}, "value": 0}, "title": null}},
     "color": {"field": "site", "type": "nominal", "scale": {"domain": ["GAL", "BIE", "ARDI"], "range": ["#d7191c", "#e66101", "#fdae61"]}, "legend": {"title": null, "orient": "right", "offset": 7, "padding": 147, "labelFontSize": 21, "labelFont": "Liberation Sans", "labelColor": "#111111", "rowPadding": 14, "labelOffset": 16, "labelLimit": 300, "symbolOpacity": 1}}
    }},
   {"data": {"name": "nikout"}, "mark": {"type": "point", "filled": true, "strokeWidth": 0},
    "encoding": {
     "x": {"field": "pos", "type": "quantitative", "scale": {"domain": [0.696, 3.504], "nice": false, "zero": false}, "axis": {"values": [0.8, 1.2, 1.6, 2, 2.4, 2.8, 3.2], "labels": false, "ticks": false, "domain": false, "title": null, "grid": true}},
     "y": {"field": "v", "type": "quantitative", "scale": {"domain": [0, 0.9], "nice": false, "zero": false}, "axis": {"values": [0,0.045,0.09,0.135,0.18,0.2,0.225,0.27,0.315,0.36,0.4,0.405,0.45,0.495,0.54,0.585,0.6,0.63,0.675,0.72,0.765,0.8,0.81,0.855], "labelExpr": "abs(datum.value*5-round(datum.value*5))<1e-6 ? format(datum.value,'.1f') : ''", "labelOverlap": false, "tickOpacity": {"condition": {"test": "abs(datum.value*5-round(datum.value*5))<1e-6", "value": 1}, "value": 0}, "gridOpacity": {"condition": {"test": "datum.value>0.001 && abs(datum.value/0.045-round(datum.value/0.045))<1e-6", "value": 1}, "value": 0}, "title": null}},
     "color": {"field": "site", "type": "nominal", "scale": {"domain": ["GAL", "BIE", "ARDI"], "range": ["#d7191c", "#e66101", "#fdae61"]}, "legend": {"title": null, "orient": "right", "offset": 7, "padding": 147, "labelFontSize": 21, "labelFont": "Liberation Sans", "labelColor": "#111111", "rowPadding": 14, "labelOffset": 16, "labelLimit": 300, "symbolOpacity": 1}},
     "shape": {"field": "site", "type": "nominal", "scale": {"domain": ["GAL", "BIE", "ARDI"], "range": ["square", "diamond", "triangle-up"]}, "legend": {"title": null, "orient": "right", "offset": 7, "padding": 147, "labelFontSize": 21, "labelFont": "Liberation Sans", "labelColor": "#111111", "rowPadding": 14, "labelOffset": 16, "labelLimit": 300, "symbolOpacity": 1}},
     "size": {"field": "site", "type": "nominal", "scale": {"type": "ordinal", "domain": ["GAL", "BIE", "ARDI"], "range": [170, 360, 290]}, "legend": {"title": null, "orient": "right", "offset": 7, "padding": 147, "labelFontSize": 21, "labelFont": "Liberation Sans", "labelColor": "#111111", "rowPadding": 14, "labelOffset": 16, "labelLimit": 300, "symbolOpacity": 1}},
     "opacity": {"field": "sp", "type": "nominal", "scale": {"type": "ordinal", "domain": ["GAL (G. pulex)", "BIE (G. pulex)", "ARDI (G. fossarum)"], "range": [1, 1, 1]}, "legend": {"title": null, "orient": "none", "legendX": 956, "legendY": 147, "labelFontSize": 21, "labelFont": "Liberation Sans", "labelFontStyle": "italic", "labelColor": "#111111", "rowPadding": 14, "symbolSize": 0, "symbolStrokeWidth": 0, "labelOffset": 0, "labelLimit": 300, "labelExpr": "substring(datum.label, indexof(datum.label, '('))"}}
    }},
   {"data": {"name": "nikout_ref"}, "mark": {"type": "rule", "stroke": "#7f7f7f", "strokeWidth": 2.5, "strokeDash": [14, 4, 5, 4]},
    "encoding": {
     "y": {"field": "v", "type": "quantitative", "scale": {"domain": [0, 0.9], "nice": false, "zero": false}, "axis": {"values": [0,0.045,0.09,0.135,0.18,0.2,0.225,0.27,0.315,0.36,0.4,0.405,0.45,0.495,0.54,0.585,0.6,0.63,0.675,0.72,0.765,0.8,0.81,0.855], "labelExpr": "abs(datum.value*5-round(datum.value*5))<1e-6 ? format(datum.value,'.1f') : ''", "labelOverlap": false, "tickOpacity": {"condition": {"test": "abs(datum.value*5-round(datum.value*5))<1e-6", "value": 1}, "value": 0}, "gridOpacity": {"condition": {"test": "datum.value>0.001 && abs(datum.value/0.045-round(datum.value/0.045))<1e-6", "value": 1}, "value": 0}, "title": null}}
    }}
  ]
 }
],
"config": {
 "view": {"stroke": "#333333", "strokeWidth": 2},
 "axis": {"domain": false, "gridColor": "#c8c8c8", "gridDash": [1.5, 3], "gridWidth": 1, "tickColor": "#333333", "tickSize": 7, "tickWidth": 1.5, "labelFont": "Liberation Sans", "labelFontSize": 17, "labelColor": "#222222", "labelPadding": 3, "titleFont": "Liberation Sans", "titleFontSize": 25, "titleFontWeight": "normal", "titleColor": "#111111", "titlePadding": 35},
 "title": {"font": "Liberation Sans", "fontSize": 52, "fontWeight": "bold", "color": "#000000"}
}
}
